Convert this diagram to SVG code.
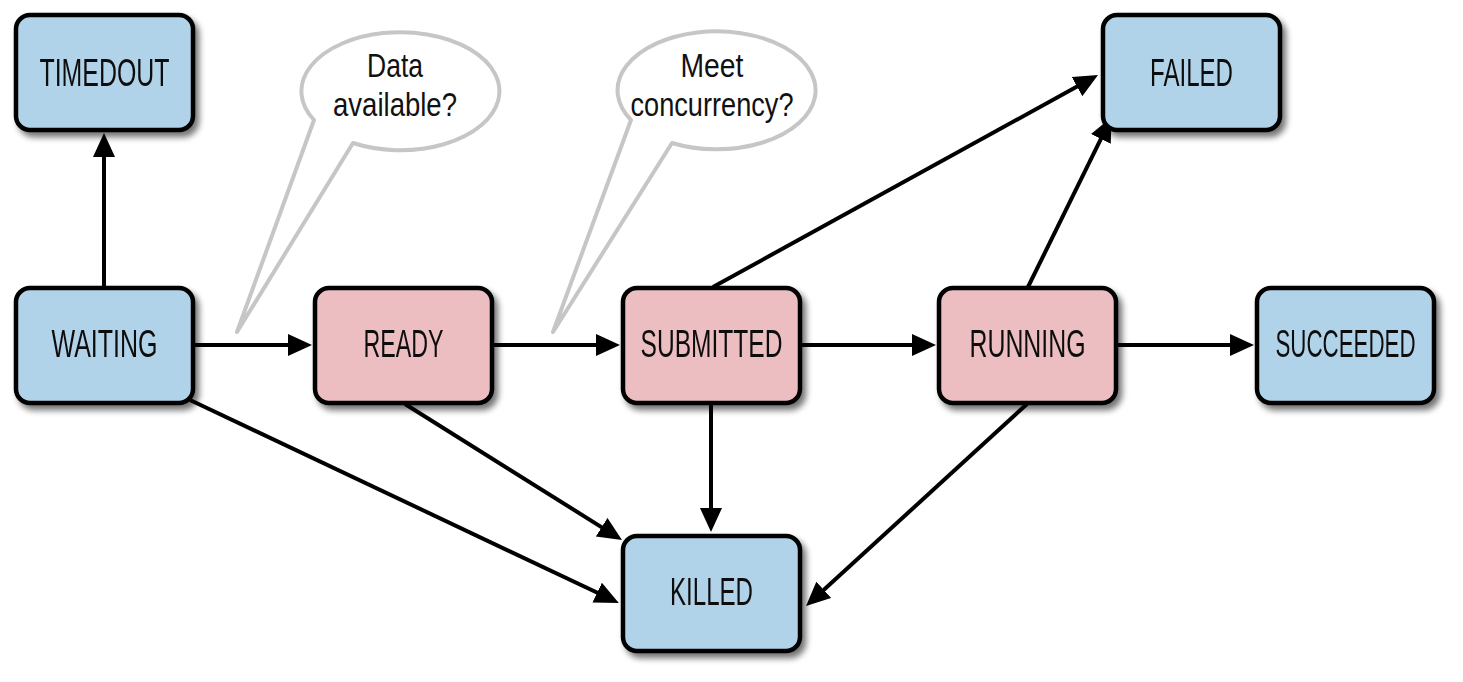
<svg xmlns="http://www.w3.org/2000/svg" width="1463" height="682" viewBox="0 0 1463 682">
<style>
.node rect{stroke:#000;stroke-width:4.5}
.blue{fill:#b1d3ea}
.pink{fill:#ecbdc1}
.lbl{font-family:"Liberation Sans",Arial,sans-serif;font-size:38px;fill:#111;text-anchor:middle}
.btxt{font-family:"Liberation Sans",Arial,sans-serif;font-size:34px;fill:#111;text-anchor:middle}
.bubble{fill:#fff;stroke:#c6c6c6;stroke-width:4;stroke-linejoin:round}
.edge{stroke:#000;stroke-width:4;fill:none;marker-end:url(#ah)}
</style>
<defs>
<marker id="ah" markerUnits="userSpaceOnUse" markerWidth="26" markerHeight="24" refX="12" refY="11" orient="auto">
<path d="M0,0 L24,11 L0,22 z" fill="#000"/>
</marker>
<filter id="sh" x="-10%" y="-10%" width="130%" height="140%">
<feGaussianBlur in="SourceAlpha" stdDeviation="3"/>
<feOffset dx="4" dy="5" result="b"/>
<feComponentTransfer><feFuncA type="linear" slope="0.55"/></feComponentTransfer>
<feMerge><feMergeNode/><feMergeNode in="SourceGraphic"/></feMerge>
</filter>
</defs>

<g id="bubble-data">
<path class="bubble" d="M314,120 A99 59 0 1 1 353,143 L237,332 Z"/>
<text class="btxt" x="395" y="77" textLength="56" lengthAdjust="spacingAndGlyphs">Data</text>
<text class="btxt" x="395" y="116" textLength="124" lengthAdjust="spacingAndGlyphs">available?</text>
</g>
<g id="bubble-concurrency">
<path class="bubble" d="M631,120 A99 59 0 1 1 672,143 L553,332 Z"/>
<text class="btxt" x="712" y="77" textLength="63" lengthAdjust="spacingAndGlyphs">Meet</text>
<text class="btxt" x="712" y="116" textLength="163" lengthAdjust="spacingAndGlyphs">concurrency?</text>
</g>

<g id="connectors">
<path class="edge" d="M104,287 L104,145"/>
<path class="edge" d="M194,345 L300,345"/>
<path class="edge" d="M492,345 L608,345"/>
<path class="edge" d="M800,345 L924,345"/>
<path class="edge" d="M1116,345 L1242,345"/>
<path class="edge" d="M190,400 L608,597.8"/>
<path class="edge" d="M405,404 L611.8,533.6"/>
<path class="edge" d="M711,404 L711,520"/>
<path class="edge" d="M1027,404 L814.9,598"/>
<path class="edge" d="M713,287 L1087.5,80.8"/>
<path class="edge" d="M1028,287 L1106.2,128.1"/>
</g>

<g id="node-timedout" class="node" filter="url(#sh)">
<rect class="blue" x="16" y="15" width="177" height="115" rx="14"/>
<text class="lbl" x="104.5" y="86" textLength="130" lengthAdjust="spacingAndGlyphs">TIMEDOUT</text>
</g>
<g id="node-waiting" class="node" filter="url(#sh)">
<rect class="blue" x="16" y="288" width="177" height="115" rx="14"/>
<text class="lbl" x="104.5" y="357" textLength="106" lengthAdjust="spacingAndGlyphs">WAITING</text>
</g>
<g id="node-ready" class="node" filter="url(#sh)">
<rect class="pink" x="315" y="288" width="177" height="115" rx="14"/>
<text class="lbl" x="403.5" y="357" textLength="80" lengthAdjust="spacingAndGlyphs">READY</text>
</g>
<g id="node-submitted" class="node" filter="url(#sh)">
<rect class="pink" x="623" y="288" width="177" height="115" rx="14"/>
<text class="lbl" x="711.5" y="357" textLength="142" lengthAdjust="spacingAndGlyphs">SUBMITTED</text>
</g>
<g id="node-running" class="node" filter="url(#sh)">
<rect class="pink" x="939" y="288" width="177" height="115" rx="14"/>
<text class="lbl" x="1027.5" y="357" textLength="116" lengthAdjust="spacingAndGlyphs">RUNNING</text>
</g>
<g id="node-succeeded" class="node" filter="url(#sh)">
<rect class="blue" x="1257" y="288" width="177" height="115" rx="14"/>
<text class="lbl" x="1345.5" y="357" textLength="140" lengthAdjust="spacingAndGlyphs">SUCCEEDED</text>
</g>
<g id="node-failed" class="node" filter="url(#sh)">
<rect class="blue" x="1103" y="15" width="177" height="115" rx="14"/>
<text class="lbl" x="1191.5" y="86" textLength="83" lengthAdjust="spacingAndGlyphs">FAILED</text>
</g>
<g id="node-killed" class="node" filter="url(#sh)">
<rect class="blue" x="623" y="536" width="177" height="115" rx="14"/>
<text class="lbl" x="711.5" y="605" textLength="83" lengthAdjust="spacingAndGlyphs">KILLED</text>
</g>
</svg>
